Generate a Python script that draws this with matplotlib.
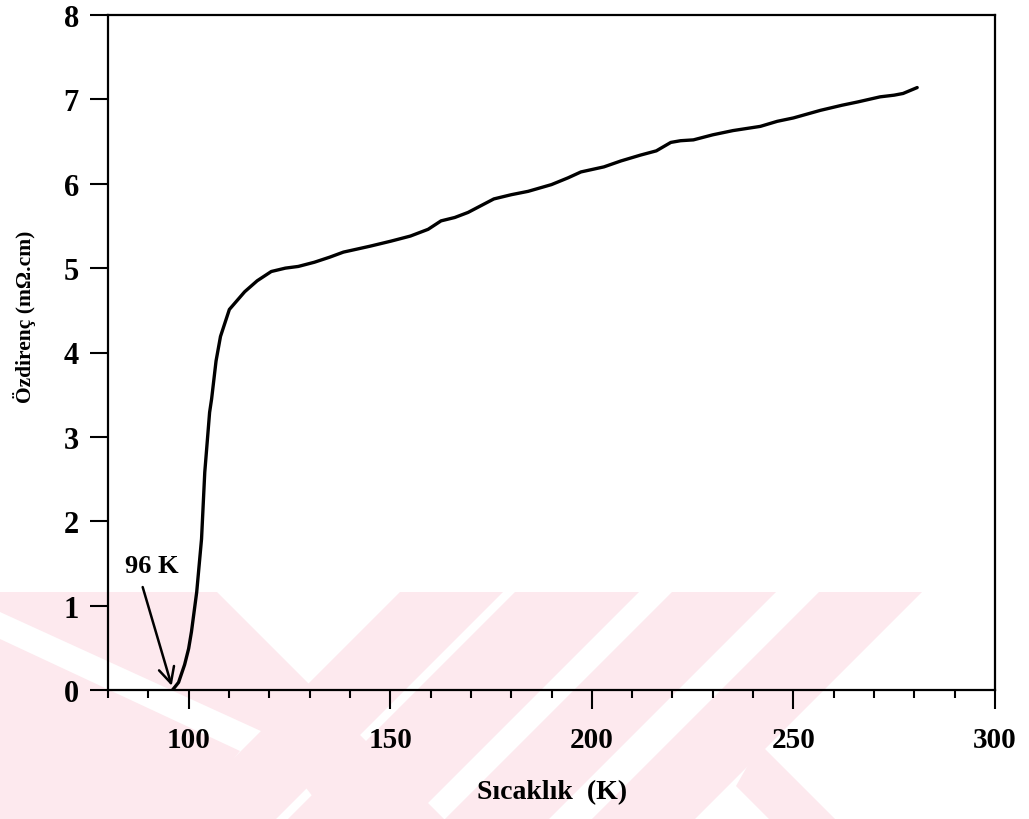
import matplotlib
matplotlib.use("Agg")
import matplotlib.pyplot as plt
from matplotlib.patches import Polygon
from matplotlib.ticker import MultipleLocator

# ---- data ----
temperature = [96.0, 97.5, 99.0, 100.0, 100.7, 102.0, 103.2, 104.0, 105.2, 105.7,
               106.8, 107.9, 110.1, 113.9, 117.0, 120.5, 124.0, 127.2, 131.2, 135.0,
               138.4, 140.3, 145.0, 150.2, 155.0, 159.4, 162.6, 166.0, 169.3, 175.7,
               180.0, 184.2, 190.0, 194.1, 197.3, 203.0, 207.2, 212.1, 216.0, 219.6,
               222.0, 225.2, 230.0, 235.0, 241.8, 246.0, 250.0, 256.7, 262.0, 266.0,
               271.5, 275.0, 277.2, 280.7]
resistivity = [0.0, 0.09, 0.30, 0.49, 0.69, 1.16, 1.79, 2.58, 3.29, 3.45,
               3.90, 4.19, 4.51, 4.72, 4.85, 4.96, 5.00, 5.02, 5.07, 5.13,
               5.19, 5.21, 5.26, 5.32, 5.38, 5.46, 5.56, 5.60, 5.66, 5.82,
               5.87, 5.91, 5.99, 6.07, 6.14, 6.20, 6.27, 6.34, 6.39, 6.49,
               6.51, 6.52, 6.58, 6.63, 6.68, 6.74, 6.78, 6.87, 6.93, 6.97,
               7.03, 7.05, 7.07, 7.14]
x_major_ticks = [100, 150, 200, 250, 300]
y_ticks = [0, 1, 2, 3, 4, 5, 6, 7, 8]
xlabel_text = "Sıcaklık  (K)"
ylabel_text = "Özdirenç (mΩ.cm)"
annot_text = "96 K"
annot_point = (95.8, 0.05)
annot_text_pos = (90.8, 1.47)
arrow_start = (88.6, 1.22)

plt.rcParams['font.family'] = ['Liberation Serif', 'DejaVu Serif']
plt.rcParams['font.weight'] = 'bold'

W, H = 1029, 820
fig = plt.figure(figsize=(W / 100, H / 100), dpi=100)

# ---- faint watermark in a background layer (pixel coords, y downward) ----
bg = fig.add_axes([0, 0, 1, 1], zorder=-10)
bg.set_xlim(0, W)
bg.set_ylim(H, 0)
bg.axis('off')
wm_color = '#fde9ee'
wm_polys = [
    [(0, 593), (217, 593), (444, 820), (330, 820), (263, 733), (0, 613)],
    [(0, 640), (240, 752), (185, 820), (0, 820)],
    [(400, 593), (503, 593), (276, 820), (173, 820)],
    [(515, 593), (639, 593), (412, 820), (288, 820)],
    [(672, 593), (776, 593), (549, 820), (445, 820)],
    [(819, 593), (922, 593), (695, 820), (592, 820)],
    [(736, 787), (760, 745), (835, 820), (769, 820)],
]
for poly in wm_polys:
    bg.add_patch(Polygon(poly, closed=True, facecolor=wm_color, edgecolor='none'))

ax = fig.add_axes([108 / W, 1 - 691 / H, (995 - 108) / W, (691 - 16) / H], zorder=1)
ax.set_facecolor('none')

ax.plot(temperature, resistivity, color='black', lw=2.4, solid_capstyle='round')

ax.set_xlim(80, 300)
ax.set_ylim(0, 8)
ax.set_xticks(x_major_ticks)
ax.xaxis.set_minor_locator(MultipleLocator(10))
ax.set_yticks(y_ticks)

for s in ax.spines.values():
    s.set_linewidth(1.6)
    s.set_color('black')

ax.tick_params(axis='x', which='major', direction='out', length=14, width=1.5,
               pad=12, labelsize=21, colors='black')
ax.tick_params(axis='x', which='minor', direction='out', length=6, width=1.5)
ax.tick_params(axis='y', which='major', direction='out', length=13, width=1.5,
               pad=8, labelsize=22)
for lab in ax.get_xticklabels() + ax.get_yticklabels():
    lab.set_fontweight('bold')

fig.text(552 / W, 1 - 793 / H, xlabel_text, ha='center', va='center',
         fontsize=20, fontweight='bold')
fig.text(25 / W, 1 - 317 / H, ylabel_text, ha='center', va='center',
         rotation=90, fontsize=15.5, fontweight='bold')

ax.text(*annot_text_pos, annot_text, ha='center', va='center',
        fontsize=19, fontweight='bold')
ax.annotate('', xy=annot_point, xytext=arrow_start,
            arrowprops=dict(arrowstyle='->', color='black', lw=1.8,
                            mutation_scale=28, shrinkA=0, shrinkB=0))

fig.savefig('out.png', dpi=100)
